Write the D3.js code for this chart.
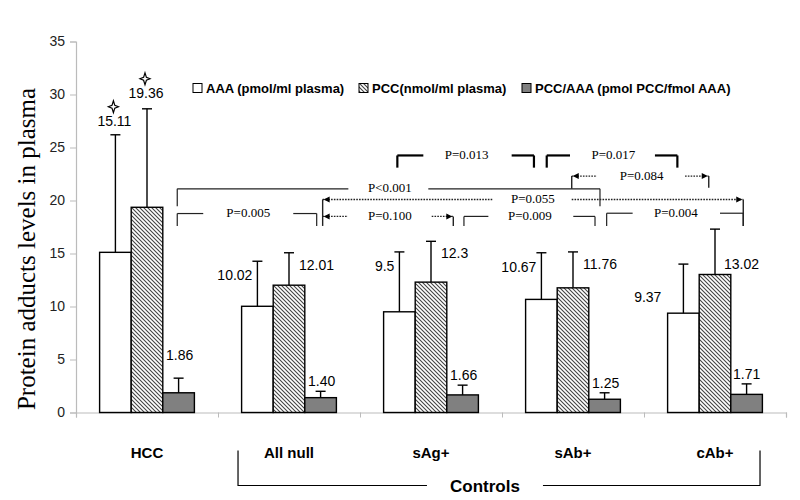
<!DOCTYPE html>
<html><head><meta charset="utf-8">
<script src="https://cdn.jsdelivr.net/npm/d3@7"></script>
<style>body{margin:0;background:#fff}</style>
</head><body>
<svg id="chart" width="800" height="500"></svg>
<script>
// ---------- data ----------
const categories = ["HCC", "All null", "sAg+", "sAb+", "cAb+"];
const seriesNames = ["AAA (pmol/ml plasma)", "PCC(nmol/ml plasma)", "PCC/AAA (pmol PCC/fmol AAA)"];
const aaaValues   = [15.11, 10.02, 9.5, 10.67, 9.37];
const pccValues   = [19.36, 12.01, 12.3, 11.76, 13.02];
const ratioValues = [1.86, 1.40, 1.66, 1.25, 1.71];
const aaaErrTop   = [26.2, 14.27, 15.15, 15.07, 14.0];
const pccErrTop   = [28.65, 15.07, 16.15, 15.15, 17.3];
const ratioErrTop = [3.24, 2.0, 2.58, 1.86, 2.7];
const aaaLabels   = ["15.11", "10.02", "9.5", "10.67", "9.37"];
const pccLabels   = ["19.36", "12.01", "12.3", "11.76", "13.02"];
const ratioLabels = ["1.86", "1.40", "1.66", "1.25", "1.71"];
const yTicks = [0, 5, 10, 15, 20, 25, 30, 35];
const yTitle = "Protein adducts levels in plasma";
const groupTitle = "Controls";
// significance brackets, in category units (x) and value units (y)
const pLabels = ["P=0.013", "P=0.017", "P=0.084", "P<0.001", "P=0.055", "P=0.100", "P=0.005", "P=0.009", "P=0.004"];
const brackets = [
  {y: 24.25, x0: 2.263, g0: 2.446, g1: 3.068, x1: 3.225, tx: 2.751, l: 23.1, r: 23.1, kind: "thick"},
  {y: 24.25, x0: 3.315, g0: 3.479, g1: 4.077, x1: 4.235, tx: 3.784, l: 23.1, r: 23.1, kind: "thick"},
  {y: 22.3,  x0: 3.491, g0: 3.669, g1: 4.289, x1: 4.456, tx: 3.984, l: 21.1, r: 21.2, kind: "dot"},
  {y: 21.1,  x0: 0.713, g0: 1.918, g1: 2.481, x1: 3.690, tx: 2.211, l: 19.45, r: 19.45, kind: "solid"},
  {y: 20.1,  x0: 1.737, g0: 2.937, g1: 3.491, x1: 4.699, tx: 3.218, l: 17.6, r: 17.6, kind: "dot"},
  {y: 18.5,  x0: 1.737, g0: 1.915, g1: 2.505, x1: 2.657, tx: 2.211, l: null, r: 17.6, kind: "dot"},
  {y: 18.77, x0: 0.713, g0: 0.896, g1: 1.530, x1: 1.695, tx: 1.213, l: 17.6, r: 17.6, kind: "solid"},
  {y: 18.5,  x0: 2.732, g0: 2.904, g1: 3.502, x1: 3.655, tx: 3.197, l: 17.6, r: 17.6, kind: "solid"},
  {y: 18.8,  x0: 3.737, g0: 3.920, g1: 4.535, x1: 4.699, tx: 4.225, l: 17.6, r: 17.6, kind: "solid"}
];

// ---------- layout ----------
const svg = d3.select("#chart");
svg.append("rect").attr("width", 800).attr("height", 500).attr("fill", "#fff");
const plotL = 76, plotR = 786, plotT = 41.5, plotB = 412.5;

const x0 = d3.scaleBand().domain(categories).range([plotL, plotR]).padding(0);
const x1 = d3.scaleBand().domain([0, 1, 2]).range([0, x0.bandwidth()]).paddingInner(0).paddingOuter(0.747);
const xc = d3.scaleLinear().domain([0, categories.length]).range([plotL, plotR]);
const y = d3.scaleLinear().domain([0, 35]).range([plotB, plotT]);

const defs = svg.append("defs");
const pat = defs.append("pattern").attr("id", "hatch").attr("patternUnits", "userSpaceOnUse")
  .attr("width", 4).attr("height", 4);
pat.append("rect").attr("width", 4).attr("height", 4).attr("fill", "#fff");
pat.append("path").attr("d", "M-1,-1L5,5M-1,3L1,5M3,-1L5,1").attr("stroke", "#444").attr("stroke-width", 1.1);

const fills = ["#ffffff", "url(#hatch)", "#808080"];
const values = [aaaValues, pccValues, ratioValues];
const errs = [aaaErrTop, pccErrTop, ratioErrTop];
const labels = [aaaLabels, pccLabels, ratioLabels];

// axes
const yAxis = svg.append("g").attr("transform", `translate(${plotL},0)`)
  .call(d3.axisLeft(y).tickValues(yTicks).tickSize(6).tickPadding(5));
yAxis.select(".domain").attr("stroke", "#bbb").attr("stroke-width", 1.2);
yAxis.selectAll(".tick line").attr("stroke", "#bbb");
yAxis.selectAll("text").attr("font-family", "Arial, 'Liberation Sans', sans-serif").attr("font-size", 14).attr("fill", "#222");

const xAxis = svg.append("g").attr("transform", `translate(0,${plotB})`)
  .call(d3.axisBottom(xc).tickValues(d3.range(0, categories.length + 1)).tickSize(5).tickFormat(""));
xAxis.select(".domain").attr("stroke", "#bbb").attr("stroke-width", 1.2);
xAxis.selectAll(".tick line").attr("stroke", "#bbb");

// bars
const data = [];
categories.forEach((c, ci) => values.forEach((arr, si) => data.push({c, ci, si, v: arr[ci], e: errs[si][ci], t: labels[si][ci]})));
const bx = d => x0(d.c) + x1(d.si);
const bw = x1.bandwidth();

svg.append("g").selectAll("rect").data(data).join("rect")
  .attr("x", bx).attr("y", d => y(d.v)).attr("width", bw).attr("height", d => y(0) - y(d.v))
  .attr("fill", d => fills[d.si]).attr("stroke", "#000").attr("stroke-width", 1.4);

// error bars
const eb = svg.append("g").attr("stroke", "#000").attr("stroke-width", 1.4);
data.forEach(d => {
  const cx = bx(d) + bw / 2;
  eb.append("line").attr("x1", cx).attr("x2", cx).attr("y1", y(d.v)).attr("y2", y(d.e));
  eb.append("line").attr("x1", cx - 5).attr("x2", cx + 5).attr("y1", y(d.e)).attr("y2", y(d.e));
});

// value labels
const labelStyle = [
  {anchor: "end", dx: -5, dy: 14},
  {anchor: "start", dx: 10, dy: 12},
  {anchor: "middle", dx: 1, dy: -10}
];
const labelOverride = {
  "HCC": [{anchor: "middle", dx: -1, dy: -14}, {anchor: "middle", dx: -1, dy: -16}, {anchor: "middle", dx: 1, dy: -23}],
  "cAb+": [{anchor: "end", dx: -22, dy: 33}, {anchor: "start", dx: 9, dy: 35}, {anchor: "middle", dx: 0, dy: -10}]
};
const lab = svg.append("g").attr("font-family", "Arial, 'Liberation Sans', sans-serif").attr("font-size", 14).attr("fill", "#000");
data.forEach(d => {
  const st = (labelOverride[d.c] || labelStyle)[d.si];
  const cx = bx(d) + bw / 2;
  lab.append("text").attr("x", cx + st.dx).attr("y", y(d.e) + st.dy)
    .attr("text-anchor", st.anchor).attr("dominant-baseline", "central").text(d.t);
});

// stars above HCC labels
const starPath = "M0,-6L1.4,-1.4L5,0L1.4,1.4L0,6L-1.4,1.4L-5,0L-1.4,-1.4Z";
data.filter(d => d.ci === 0 && d.si < 2).forEach(d => {
  const st = labelOverride["HCC"][d.si];
  const cx = bx(d) + bw / 2 + st.dx - 1;
  svg.append("path").attr("d", starPath)
    .attr("transform", `translate(${cx},${y(d.e) + st.dy - 14})`)
    .attr("fill", "#fff").attr("stroke", "#000").attr("stroke-width", 1.2);
});

// category labels
svg.append("g").selectAll("text").data(categories).join("text")
  .attr("x", d => x0(d) + x0.bandwidth() / 2).attr("y", plotB + 40)
  .attr("text-anchor", "middle").attr("dominant-baseline", "central")
  .attr("font-family", "Arial, 'Liberation Sans', sans-serif").attr("font-weight", "bold").attr("font-size", 15)
  .text(d => d);

// controls bracket
const cL = xc(1.141), cR = xc(4.817), cY = plotB + 73, cTop = plotB + 38;
const cMid = xc(2.88);
const cb = svg.append("g").attr("stroke", "#000").attr("stroke-width", 1.2).attr("fill", "none");
cb.append("path").attr("d", `M${cL},${cTop}V${cY}H${cMid - 58}`);
cb.append("path").attr("d", `M${cMid + 58},${cY}H${cR}V${cTop}`);
svg.append("text").attr("x", cMid).attr("y", cY + 1).attr("text-anchor", "middle").attr("dominant-baseline", "central")
  .attr("font-family", "Arial, 'Liberation Sans', sans-serif").attr("font-weight", "bold").attr("font-size", 17)
  .text(groupTitle);

// y title
svg.append("text").attr("transform", `translate(35,249) rotate(-90)`)
  .attr("text-anchor", "middle")
  .attr("font-family", "'Liberation Serif', 'Times New Roman', serif").attr("font-size", 25)
  .text(yTitle);

// legend
const legendX = [193, 359, 522];
const lg = svg.append("g").attr("font-family", "Arial, 'Liberation Sans', sans-serif").attr("font-weight", "bold").attr("font-size", 13);
seriesNames.forEach((n, i) => {
  lg.append("rect").attr("x", legendX[i]).attr("y", 83.5).attr("width", 9).attr("height", 9)
    .attr("fill", fills[i]).attr("stroke", "#000").attr("stroke-width", 1);
  lg.append("text").attr("x", legendX[i] + 13).attr("y", 88).attr("dominant-baseline", "central").text(n);
});

// significance brackets
const bg = svg.append("g");
function arrow(xp, yp, dir) {
  bg.append("path").attr("d", `M${xp},${yp}l${-dir * 6},-3v6z`).attr("fill", "#000");
}
brackets.forEach((b, i) => {
  const yy = y(b.y);
  const stroke = b.kind === "thick" ? 2.2 : (b.kind === "dot" ? 1.4 : 1.2);
  const dash = b.kind === "dot" ? "1.6,1.2" : null;
  const col = b.kind === "thick" ? "#000" : "#222";
  const seg = (xa, ya, xb, yb, d) => bg.append("line").attr("x1", xa).attr("y1", ya).attr("x2", xb).attr("y2", yb)
    .attr("stroke", col).attr("stroke-width", stroke).attr("stroke-dasharray", d);
  seg(xc(b.x0), yy, xc(b.g0), yy, dash);
  seg(xc(b.g1), yy, xc(b.x1), yy, dash);
  if (b.l !== null) seg(xc(b.x0), yy, xc(b.x0), y(b.l), null);
  if (b.r !== null) seg(xc(b.x1), yy, xc(b.x1), y(b.r), null);
  if (b.kind === "dot") { arrow(xc(b.x0) + 1, yy, -1); arrow(xc(b.x1) - 1, yy, 1); }
  bg.append("text").attr("x", xc(b.tx)).attr("y", yy - 1).attr("text-anchor", "middle").attr("dominant-baseline", "central")
    .attr("font-family", "'Liberation Serif', 'Times New Roman', serif").attr("font-size", 13).attr("fill", "#000")
    .text(pLabels[i]);
});
</script>
</body></html>
